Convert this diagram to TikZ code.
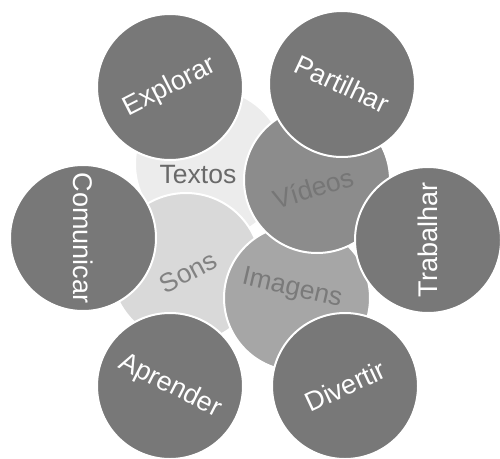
\documentclass[tikz,border=0pt]{standalone}
\usepackage{fontspec}
\setmainfont{Liberation Sans}
\definecolor{outerc}{RGB}{120,120,120}
\definecolor{videoc}{RGB}{140,140,140}
\definecolor{imagc}{RGB}{166,166,166}
\definecolor{sonsc}{RGB}{217,217,217}
\definecolor{textc}{RGB}{236,236,236}
\definecolor{lbldark}{RGB}{105,105,105}
\definecolor{lblvid}{RGB}{118,118,118}
\definecolor{lblimg}{RGB}{122,122,122}
\definecolor{lblsons}{RGB}{130,130,130}
\tikzset{
  disc/.style={circle, draw=white, line width=2pt, inner sep=0pt, minimum size=146pt},
  outerdisc/.style={disc, fill=outerc},
  outerlbl/.style={text=white, font=\fontsize{27}{29}\selectfont, inner sep=0pt},
  innerlbl/.style={font=\fontsize{26.5}{28}\selectfont, inner sep=0pt}
}
\begin{document}
\begin{tikzpicture}[x=1pt,y=-1pt]
\path[use as bounding box, clip] (0,0) rectangle (500,458);
\fill[white] (0,0) rectangle (500,458);
% inner circles
\node[disc, fill=textc, minimum size=150pt] (textos) at (210,164) {};
\node[innerlbl, text=lbldark] (ltextos) at (198,175) {Textos};
\node[disc, fill=sonsc, minimum size=150pt] (sons) at (186,268) {};
\node[innerlbl, text=lblsons, rotate=28] (lsons) at (188,272) {Sons};
\node[disc, fill=imagc] (imagens) at (297,298) {};
\node[innerlbl, text=lblimg, rotate=-13] (limagens) at (292,289) {Imagens};
\node[disc, fill=videoc] (videos) at (317,180) {};
\node[innerlbl, text=lblvid, rotate=17] (lvideos) at (313,188) {Vídeos};
% outer circles
\node[outerdisc] (explorar) at (170,87) {};
\node[outerlbl, rotate=27] (lexplorar) at (explorar) {Explorar};
\node[outerdisc] (partilhar) at (342,84) {};
\node[outerlbl, rotate=-25] (lpartilhar) at (partilhar) {Partilhar};
\node[outerdisc] (comunicar) at (83,238) {};
\node[outerlbl, rotate=-90] (lcomunicar) at (comunicar) {Comunicar};
\node[outerdisc] (trabalhar) at (428,240) {};
\node[outerlbl, rotate=90] (ltrabalhar) at (trabalhar) {Trabalhar};
\node[outerdisc] (aprender) at (170,386) {};
\node[outerlbl, rotate=-27] (laprender) at (aprender) {Aprender};
\node[outerdisc] (divertir) at (345,386) {};
\node[outerlbl, rotate=25] (ldivertir) at (divertir) {Divertir};
\end{tikzpicture}
\end{document}
